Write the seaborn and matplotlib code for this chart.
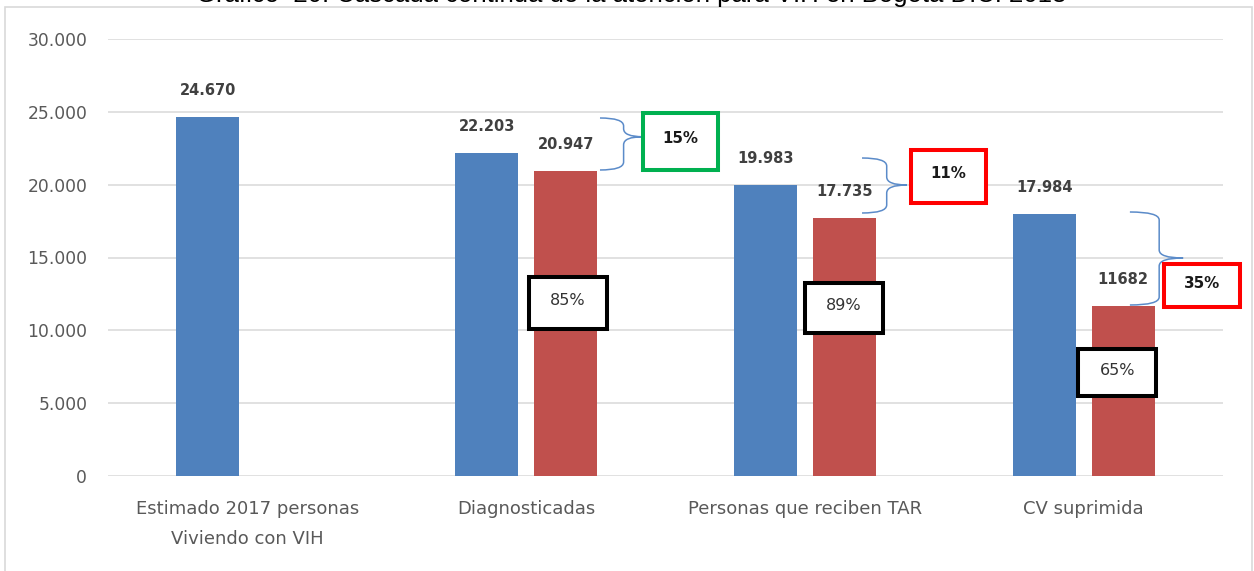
import numpy as np
import pandas as pd
import seaborn as sns
import matplotlib.pyplot as plt
from matplotlib.patches import Rectangle
from matplotlib.path import Path
from matplotlib.patches import PathPatch

# Data
etapas = ["Estimado 2017 personas\nViviendo con VIH", "Diagnosticadas",
          "Personas que reciben TAR", "CV suprimida"]
esperado = [24670, 22203, 19983, 17984]          # blue bars
alcanzado = [None, 20947, 17735, 11682]          # red bars (no red bar for the estimate)
etiq_esperado = ["24.670", "22.203", "19.983", "17.984"]
etiq_alcanzado = ["20.947", "17.735", "11682"]
pct_brecha = ["15%", "11%", "35%"]               # coloured boxes (gap)
pct_cobertura = ["85%", "89%", "65%"]            # black boxes (coverage)
titulo = "Gráfico  20. Cascada continua de la atención para VIH en Bogotá D.C. 2018"

AZUL = "#4F81BD"
ROJO = "#C0504D"
GRIS_TXT = "#595959"
GRIS_GRID = "#D9D9D9"

rows = []
for etapa, a, b in zip(etapas, esperado, alcanzado):
    rows.append({"etapa": etapa, "grupo": "Esperado", "personas": a})
    if b is not None:
        rows.append({"etapa": etapa, "grupo": "Alcanzado", "personas": b})
df = pd.DataFrame(rows)

sns.set_theme(style="white")
plt.rcParams["font.family"] = ["DejaVu Sans"]

fig = plt.figure(figsize=(12.54, 5.71), dpi=100)
ax = fig.add_axes([108 / 1254, 1 - 476 / 571, (1223 - 108) / 1254, 437 / 571])

sns.barplot(data=df, x="etapa", y="personas", hue="grupo", order=etapas,
            hue_order=["Esperado", "Alcanzado"], palette=[AZUL, ROJO],
            saturation=1, width=0.566, gap=0.2, errorbar=None, legend=False,
            linewidth=0, ax=ax, zorder=2)

ax.set_xlim(-0.5, 3.5)
ax.set_ylim(0, 30000)
ax.set_yticks(np.arange(0, 30001, 5000))
ax.set_yticklabels(["0" if v == 0 else f"{v:,}".replace(",", ".") for v in range(0, 30001, 5000)])
ax.yaxis.grid(True, color=GRIS_GRID, linewidth=1.1, zorder=0)
ax.set_axisbelow(True)
for s in ax.spines.values():
    s.set_visible(False)
ax.set_xlabel("")
ax.set_ylabel("")
ax.tick_params(axis="y", length=0, pad=15, labelsize=12.3, labelcolor=GRIS_TXT)
ax.tick_params(axis="x", length=0, pad=17, labelsize=13, labelcolor=GRIS_TXT)
for t in ax.get_xticklabels():
    t.set_linespacing(1.85)
    t.set_verticalalignment("top")

# value labels above the bars
ax.bar_label(ax.containers[0], labels=etiq_esperado, padding=13.5, fontsize=10.5,
             fontweight="bold", color="#404040")
ax.bar_label(ax.containers[1], labels=etiq_alcanzado, padding=13.5, fontsize=10.5,
             fontweight="bold", color="#404040")


def llave(ax, x0, x1, ytop, ybot, ytip, ry=550):
    # right-facing curly brace
    xm = x0 + 0.55 * (x1 - x0)
    verts = [(x0, ytop), (xm, ytop), (xm, ytop - ry),
             (xm, ytip + ry), (xm, ytip), (x1, ytip),
             (x1, ytip), (xm, ytip), (xm, ytip - ry),
             (xm, ybot + ry), (xm, ybot), (x0, ybot)]
    codes = [Path.MOVETO, Path.CURVE3, Path.CURVE3,
             Path.LINETO, Path.CURVE3, Path.CURVE3,
             Path.MOVETO, Path.CURVE3, Path.CURVE3,
             Path.LINETO, Path.CURVE3, Path.CURVE3]
    ax.add_patch(PathPatch(Path(verts, codes), fill=False, edgecolor="#5B8BC9",
                           linewidth=1.1, clip_on=False, zorder=4))


def caja(ax, xc, yc, w, h, texto, color, bold):
    ax.add_patch(Rectangle((xc - w / 2, yc - h / 2), w, h, facecolor="white",
                           edgecolor=color, linewidth=2.9, clip_on=False, zorder=5))
    ax.text(xc, yc + h * 0.05, texto, ha="center", va="center", zorder=6,
            fontsize=10.8 if bold else 11.5, fontweight="bold" if bold else "normal",
            color="#1A1A1A" if bold else "#333333")


# braces between expected and achieved
llaves = [(1.265, 1.419, 24577, 21007, 23290),
          (2.205, 2.366, 21830, 18055, 19977),
          (3.166, 3.357, 18124, 11739, 14966)]
for x0, x1, yt, yb, yp in llaves:
    llave(ax, x0, x1, yt, yb, yp)

pos_brecha = [(1.553, 22960, 3900), (2.515, 20560, 3640), (3.425, 13080, 2950)]
col_brecha = ["#00B050", "#FF0000", "#FF0000"]
for (xc, yc, h), txt, col in zip(pos_brecha, pct_brecha, col_brecha):
    caja(ax, xc, yc, 0.27, h, txt, col, True)

pos_cobertura = [(1.150, 11877, 3570), (2.140, 11530, 3430), (3.121, 7105, 3230)]
for (xc, yc, h), txt in zip(pos_cobertura, pct_cobertura):
    caja(ax, xc, yc, 0.28, h, txt, "black", False)

# outer frame and title (clipped by the top edge, as in the source)
fig.add_artist(Rectangle((5 / 1254, -0.05), (1252 - 5) / 1254, 1.05 - 7 / 571,
                         transform=fig.transFigure, fill=False,
                         edgecolor=GRIS_GRID, linewidth=1.2))
fig.text(631 / 1254, 1 - 2 / 571, titulo, ha="center", va="baseline",
         fontsize=18.5, family="Liberation Sans", color="black")

fig.savefig("out.png", dpi=100)
